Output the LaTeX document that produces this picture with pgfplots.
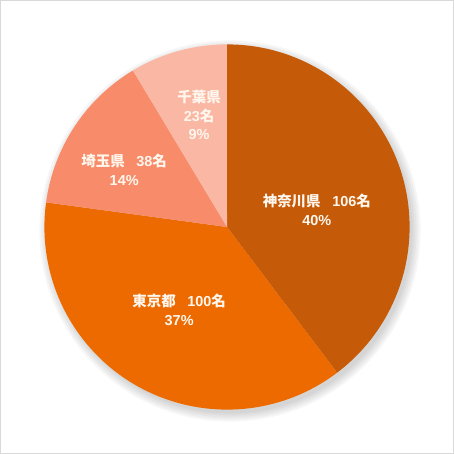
\documentclass[border=0pt]{standalone}
\usepackage{pgfplots}
\pgfplotsset{compat=1.18}
\usepackage{pgfplotstable}
\usepackage{fontspec}
\setmainfont{Liberation Sans}
\newfontfamily\cjk{Noto Sans CJK JP}

\definecolor{cKanagawa}{RGB}{197,90,8}
\definecolor{cTokyo}{RGB}{236,106,0}
\definecolor{cSaitama}{RGB}{248,140,106}
\definecolor{cChiba}{RGB}{250,183,163}
\definecolor{frame}{RGB}{217,217,217}
\definecolor{lbltext}{RGB}{255,247,238}

\begin{document}
\begin{tikzpicture}[lbl/.style={text=lbltext, align=center, inner sep=0pt,
    font=\fontsize{14.5}{18.5}\selectfont\bfseries}]
\pgfplotstableread{
pref value
kanagawa 106
tokyo 100
saitama 38
chiba 23
}\pietable
\pgfplotstablegetelem{0}{value}\of\pietable\edef\vA{\pgfplotsretval}
\pgfplotstablegetelem{1}{value}\of\pietable\edef\vB{\pgfplotsretval}
\pgfplotstablegetelem{2}{value}\of\pietable\edef\vC{\pgfplotsretval}
\pgfplotstablegetelem{3}{value}\of\pietable\edef\vD{\pgfplotsretval}
\pgfmathsetmacro\T{\vA+\vB+\vC+\vD}
\pgfmathsetmacro\aA{90-(\vA/\T)*360}
\pgfmathsetmacro\aB{\aA-(\vB/\T)*360}
\pgfmathsetmacro\aC{\aB-(\vC/\T)*360}
\pgfmathsetmacro\aD{\aC-(\vD/\T)*360}
\begin{axis}[x=183pt, y=183pt,
  xmin=-1.2404, xmax=1.2404, ymin=-1.2404, ymax=1.2404,
  hide axis, clip=false]
% frame
\draw[frame, line width=1pt] (axis cs:-1.2404,-1.2404) rectangle (axis cs:1.2404,1.2404);
% soft shadow
\pgfplotsinvokeforeach{183,185,187,189,191}{
  \fill[black, opacity=0.035] ([xshift=3pt,yshift=-4pt]axis cs:0,0) circle[radius=#1pt];
}
% slices
\fill[cKanagawa] (axis cs:0,0) -- ++(90:183pt) arc[start angle=90, end angle=\aA, radius=183pt] -- cycle;
\fill[cTokyo] (axis cs:0,0) -- ++(\aA:183pt) arc[start angle=\aA, end angle=\aB, radius=183pt] -- cycle;
\fill[cSaitama] (axis cs:0,0) -- ++(\aB:183pt) arc[start angle=\aB, end angle=\aC, radius=183pt] -- cycle;
\fill[cChiba] (axis cs:0,0) -- ++(\aC:183pt) arc[start angle=\aC, end angle=\aD, radius=183pt] -- cycle;
% labels
\node[lbl] at (axis cs:0.492,0.093) {{\cjk 神奈川県}\hspace{0.8em}106{\cjk 名}\\40\%};
\node[lbl] at (axis cs:-0.262,-0.454) {{\cjk 東京都}\hspace{0.8em}100{\cjk 名}\\37\%};
\node[lbl] at (axis cs:-0.563,0.314) {{\cjk 埼玉県}\hspace{0.8em}38{\cjk 名}\\14\%};
\node[lbl] at (axis cs:-0.153,0.612) {{\cjk 千葉県}\\23{\cjk 名}\\9\%};
\end{axis}
\end{tikzpicture}
\end{document}
